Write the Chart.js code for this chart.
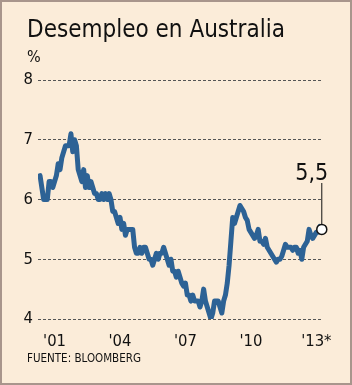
<!DOCTYPE html>
<html>
<head>
<meta charset="utf-8">
<script src="https://cdn.jsdelivr.net/npm/chart.js@4/dist/chart.umd.min.js"></script>
<style>
html, body { margin: 0; padding: 0; background: #fbecd9; }
canvas { display: block; }
</style>
</head>
<body>
<canvas id="myChart" width="352" height="385"></canvas>
<script>
// tasa de desempleo mensual, desde mayo 2000
var startYear = 2000;
var startMonth = 5;
var unemployment = [
  6.4, 6.2, 6.0, 6.0, 6.0, 6.3, 6.3, 6.2, 6.3, 6.4, 6.6, 6.5,
  6.7, 6.8, 6.9, 6.9, 6.9, 7.1, 6.8, 7.0, 6.9, 6.5, 6.4, 6.3,
  6.5, 6.2, 6.4, 6.2, 6.3, 6.2, 6.1, 6.1, 6.0, 6.0, 6.1, 6.0,
  6.1, 6.0, 6.1, 6.0, 5.8, 5.8, 5.7, 5.6, 5.7, 5.5, 5.6, 5.4,
  5.5, 5.5, 5.5, 5.5, 5.2, 5.1, 5.1, 5.2, 5.1, 5.2, 5.2, 5.1,
  5.0, 5.0, 4.9, 5.0, 5.1, 5.0, 5.1, 5.1, 5.2, 5.1, 5.0, 4.9,
  5.0, 4.8, 4.8, 4.7, 4.8, 4.7, 4.6, 4.55, 4.6, 4.4, 4.4, 4.3,
  4.4, 4.3, 4.3, 4.3, 4.2, 4.3, 4.5, 4.3, 4.2, 4.1, 4.0, 4.1,
  4.3, 4.3, 4.3, 4.2, 4.1, 4.3, 4.4, 4.6, 4.9, 5.3, 5.7, 5.6,
  5.7, 5.8, 5.9, 5.85, 5.8, 5.7, 5.65, 5.5, 5.45, 5.4, 5.35, 5.4,
  5.5, 5.3, 5.3, 5.25, 5.35, 5.2, 5.15, 5.1, 5.05, 5.0, 4.95, 5.0,
  5.0, 5.05, 5.15, 5.25, 5.2, 5.2, 5.2, 5.15, 5.2, 5.2, 5.1, 5.15,
  5.0, 5.2, 5.25, 5.3, 5.5, 5.4, 5.35, 5.4, 5.45, 5.45, 5.55, 5.5
];
var yearTicks = [2001, 2004, 2007, 2010, 2013];
var yearLabels = ["'01", "'04", "'07", "'10", "'13*"];
var yTicks = [4, 5, 6, 7, 8];

var fontFamily = '"DejaVu Sans Condensed", "DejaVu Sans", sans-serif';

var points = unemployment.map(function (v, i) {
    return { x: startYear + (startMonth - 1 + i) / 12, y: v };
});

var frame = {
    id: 'frame',
    beforeDraw: function (chart) {
        var c = chart.ctx;
        c.save();
        c.fillStyle = '#fbecd9';
        c.fillRect(0, 0, chart.width, chart.height);
        c.strokeStyle = '#a8958c';
        c.lineWidth = 2;
        c.strokeRect(1, 1, chart.width - 2, chart.height - 2);
        c.fillStyle = '#111';
        c.textAlign = 'left';
        c.textBaseline = 'alphabetic';
        c.font = '24px ' + fontFamily;
        c.fillText('Desempleo en Australia', 27, 37);
        c.font = '16px ' + fontFamily;
        c.fillText('%', 27, 62);
        c.font = '11.5px ' + fontFamily;
        c.fillText('FUENTE: BLOOMBERG', 27, 362);
        c.restore();
    },
    afterDatasetsDraw: function (chart) {
        var c = chart.ctx;
        var last = points[points.length - 1];
        var px = chart.scales.x.getPixelForValue(last.x);
        var py = chart.scales.y.getPixelForValue(last.y);
        c.save();
        c.strokeStyle = '#111';
        c.lineWidth = 1;
        c.beginPath();
        c.moveTo(px, 183);
        c.lineTo(px, py - 5);
        c.stroke();
        c.beginPath();
        c.arc(px, py, 5, 0, Math.PI * 2);
        c.fillStyle = '#fff';
        c.fill();
        c.lineWidth = 1.5;
        c.stroke();
        c.fillStyle = '#111';
        c.font = '23px ' + fontFamily;
        c.textAlign = 'center';
        c.fillText(last.y.toFixed(1).replace('.', ','), px - 10, 180);
        c.restore();
    }
};

var ctx = document.getElementById('myChart').getContext('2d');
var myChart = new Chart(ctx, {
    type: 'line',
    data: {
        datasets: [{
            data: points,
            borderColor: '#2d6295',
            borderWidth: 5,
            pointRadius: 0,
            tension: 0,
            borderJoinStyle: 'round',
            borderCapStyle: 'round'
        }]
    },
    options: {
        responsive: false,
        animation: false,
        layout: { padding: { left: 0, top: 80, right: 30, bottom: 0 } },
        plugins: {
            legend: { display: false },
            tooltip: { enabled: false }
        },
        scales: {
            x: {
                type: 'linear',
                min: 2000.24,
                max: 2013.26,
                afterBuildTicks: function (scale) {
                    scale.ticks = yearTicks.map(function (v) { return { value: v }; });
                },
                afterFit: function (scale) { scale.height = 66; },
                ticks: {
                    autoSkip: false,
                    maxRotation: 0,
                    padding: 5,
                    color: '#111',
                    font: { family: fontFamily, size: 16.5 },
                    callback: function (v) { return yearLabels[yearTicks.indexOf(v)]; }
                },
                grid: { display: false },
                border: { display: false }
            },
            y: {
                min: 4,
                max: 8,
                afterBuildTicks: function (scale) {
                    scale.ticks = yTicks.map(function (v) { return { value: v }; });
                },
                afterFit: function (scale) { scale.width = 38; },
                ticks: {
                    padding: 5,
                    color: '#111',
                    font: { family: fontFamily, size: 16.5 }
                },
                grid: { color: '#555', lineWidth: 1, drawTicks: false, borderDash: [3, 2] },
                border: { display: false, dash: [3, 2] }
            }
        }
    },
    plugins: [frame]
});
</script>
</body>
</html>
